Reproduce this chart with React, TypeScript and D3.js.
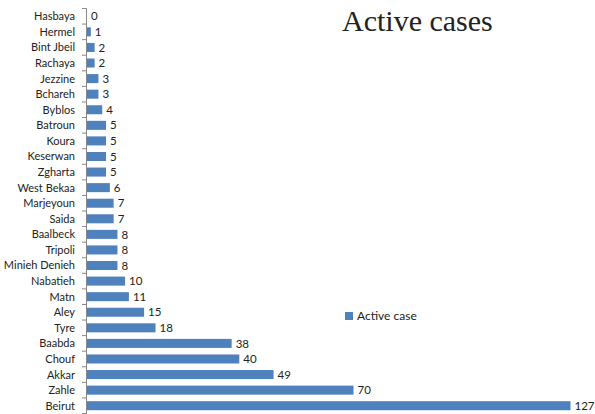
import React from "react";
import * as d3 from "d3";

const categories = ["Hasbaya","Hermel","Bint Jbeil","Rachaya","Jezzine","Bchareh","Byblos","Batroun","Koura","Keserwan","Zgharta","West Bekaa","Marjeyoun","Saida","Baalbeck","Tripoli","Minieh Denieh","Nabatieh","Matn","Aley","Tyre","Baabda","Chouf","Akkar","Zahle","Beirut"];
const values = [0,1,2,2,3,3,4,5,5,5,5,6,7,7,8,8,8,10,11,15,18,38,40,49,70,127];
const seriesName = "Active case";
const title = "Active cases";

export default function App() {
  const W = 595, H = 414;
  const x0 = 86.5;
  const x = d3.scaleLinear().domain([0, 127]).range([x0, 570]);
  const y = d3.scaleBand<string>().domain(categories).range([8.5, 413.5]).paddingInner(0.42).paddingOuter(0.21);
  const band = d3.scaleBand<string>().domain(categories).range([8.5, 413.5]);
  const font = "Lato, 'Open Sans', sans-serif";
  return (
    <svg width={W} height={H} style={{ position: "absolute", left: 0, top: 0 }}>
      <rect width={W} height={H} fill="#fff" />
      {categories.map((c, i) => (
        <g key={c}>
          <rect x={x0 + 0.5} y={y(c)!} width={x(values[i]) - x0} height={y.bandwidth()} fill="#4F81BD" />
          <text x={x(values[i]) + 4.5} y={y(c)! + y.bandwidth() / 2} dy="0.36em" fontSize={11.5} fontFamily={font} fill="#222">{values[i]}</text>
          <text x={75} y={band(c)! + band.bandwidth() / 2} dy="0.36em" textAnchor="end" fontSize={11} fontFamily={font} fill="#222">{c}</text>
        </g>
      ))}
      {band.domain().map((c) => (
        <line key={"t" + c} x1={82} x2={x0} y1={band(c)!} y2={band(c)!} stroke="#888" strokeWidth={1} />
      ))}
      <line x1={82} x2={x0} y1={413.5} y2={413.5} stroke="#888" />
      <line x1={x0} x2={x0} y1={8.5} y2={413.5} stroke="#888" strokeWidth={1} />
      <text x={342} y={31} fontSize={30} fontFamily="'Liberation Serif', 'DejaVu Serif', serif" fill="#222">{title}</text>
      <rect x={345} y={312} width={8} height={8} fill="#4F81BD" />
      <text x={357} y={316} dy="0.36em" fontSize={12} fontFamily={font} fill="#222">{seriesName}</text>
    </svg>
  );
}
